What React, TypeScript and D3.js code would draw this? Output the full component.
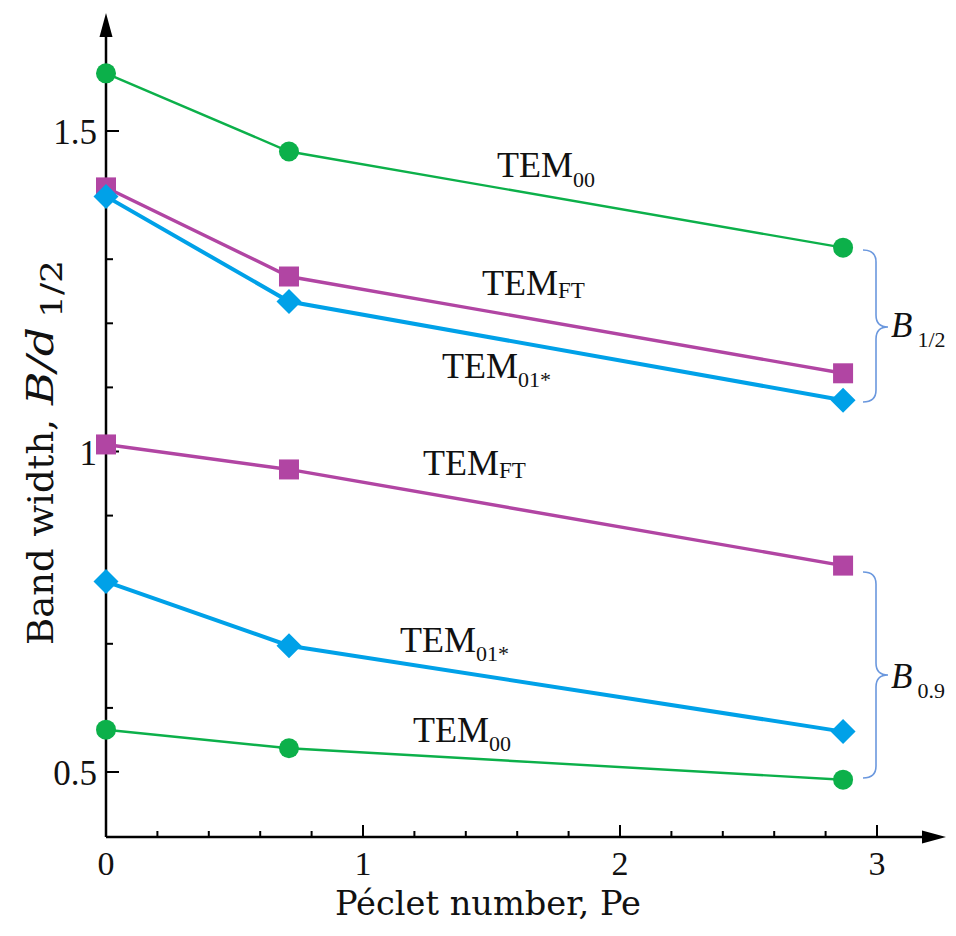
import React from "react";
import * as d3 from "d3";

const peclet = [0, 0.712, 2.868];
const b12_TEM00 = [1.59, 1.468, 1.318];
const b12_TEMFT = [1.412, 1.273, 1.122];
const b12_TEM01 = [1.398, 1.234, 1.08];
const b09_TEMFT = [1.011, 0.972, 0.822];
const b09_TEM01 = [0.797, 0.697, 0.563];
const b09_TEM00 = [0.566, 0.537, 0.488];
const xTicks = [0, 1, 2, 3];
const yTicks = [0.5, 1, 1.5];
const yTickLabels = ["0.5", "1", "1.5"];

const W = 956;
const H = 936;
const GREEN = "#0cb04a";
const MAGENTA = "#b145a3";
const BLUE = "#00a1e8";
const BRACE = "#6b98de";
const FONT = "'Liberation Serif', 'Times New Roman', serif";
const TFONT = "'DejaVu Serif', serif";

const x = d3.scaleLinear().domain([0, 3]).range([106, 877]);
const y = d3.scaleLinear().domain([0.5, 1.5]).range([772, 131]);

const line = d3
  .line<[number, number]>()
  .x((d) => x(d[0]))
  .y((d) => y(d[1]));

type Series = { vals: number[]; color: string; width: number; marker: "circle" | "square" | "diamond" };

const series: Series[] = [
  { vals: b12_TEM00, color: GREEN, width: 2.4, marker: "circle" },
  { vals: b12_TEMFT, color: MAGENTA, width: 3.4, marker: "square" },
  { vals: b12_TEM01, color: BLUE, width: 4, marker: "diamond" },
  { vals: b09_TEMFT, color: MAGENTA, width: 3.4, marker: "square" },
  { vals: b09_TEM01, color: BLUE, width: 4, marker: "diamond" },
  { vals: b09_TEM00, color: GREEN, width: 2.4, marker: "circle" },
];

function Marker({ cx, cy, kind, color }: { cx: number; cy: number; kind: string; color: string }) {
  if (kind === "circle") return <circle cx={cx} cy={cy} r={10} fill={color} />;
  if (kind === "square") return <rect x={cx - 10} y={cy - 10} width={20} height={20} fill={color} />;
  const r = 12.5;
  return <path d={`M${cx},${cy - r}L${cx + r},${cy}L${cx},${cy + r}L${cx - r},${cy}Z`} fill={color} />;
}

function Brace({ y0, y1, ym }: { y0: number; y1: number; ym: number }) {
  const x0 = 863, x1 = 876, x2 = 888, r = 12;
  const d = `M${x0},${y0} Q${x1},${y0} ${x1},${y0 + r} L${x1},${ym - r} Q${x1},${ym} ${x2},${ym} Q${x1},${ym} ${x1},${ym + r} L${x1},${y1 - r} Q${x1},${y1} ${x0},${y1}`;
  return <path d={d} fill="none" stroke={BRACE} strokeWidth={1.6} />;
}

function TemLabel({ px, py, sub, subDy, subSize }: { px: number; py: number; sub: string; subDy: number; subSize: number }) {
  return (
    <text x={px} y={py} fontFamily={FONT} fontSize={36} fill="#111">
      TEM
      <tspan fontSize={subSize} dy={subDy}>{sub}</tspan>
    </text>
  );
}

export default function App() {
  const minorX = d3.range(0.2, 3.0, 0.2).filter((v) => Math.abs(v - Math.round(v)) > 0.01);
  const minorY = d3.range(0.6, 1.65, 0.1).filter((v) => Math.abs(v * 2 - Math.round(v * 2)) > 0.01);
  const axisY = 837;
  const axisX = 106;
  return (
    <svg width={W} height={H} style={{ display: "block", margin: "-8px" }} viewBox={`0 0 ${W} ${H}`}>
      <rect x={0} y={0} width={W} height={H} fill="#fff" />
      {/* axes */}
      <line x1={axisX} y1={axisY} x2={926} y2={axisY} stroke="#000" strokeWidth={2.5} />
      <path d={`M946,${axisY} L922,${axisY - 6.5} L922,${axisY + 6.5} Z`} fill="#000" />
      <line x1={axisX} y1={axisY} x2={axisX} y2={33} stroke="#000" strokeWidth={2.5} />
      <path d={`M${axisX},13 L${axisX - 6.5},37 L${axisX + 6.5},37 Z`} fill="#000" />
      {xTicks.filter((t) => t > 0).map((t) => (
        <line key={"xM" + t} x1={x(t)} x2={x(t)} y1={axisY} y2={axisY - 12} stroke="#000" strokeWidth={2} />
      ))}
      {minorX.map((t) => (
        <line key={"xm" + t} x1={x(t)} x2={x(t)} y1={axisY} y2={axisY - 6} stroke="#000" strokeWidth={2} />
      ))}
      {yTicks.map((t) => (
        <line key={"yM" + t} x1={axisX} x2={axisX + 13} y1={y(t)} y2={y(t)} stroke="#000" strokeWidth={2} />
      ))}
      {minorY.map((t) => (
        <line key={"ym" + t} x1={axisX} x2={axisX + 7} y1={y(t)} y2={y(t)} stroke="#000" strokeWidth={2} />
      ))}
      {xTicks.map((t) => (
        <text key={"xl" + t} x={x(t)} y={875} textAnchor="middle" fontFamily={FONT} fontSize={34} fill="#111">
          {t}
        </text>
      ))}
      {yTicks.map((t, i) => (
        <text key={"yl" + t} x={97} y={y(t) + 13} textAnchor="end" fontFamily={FONT} fontSize={35} fill="#111">
          {yTickLabels[i]}
        </text>
      ))}
      {/* axis titles */}
      <text x={335} y={915} fontFamily={TFONT} fontSize={33} fill="#111" textLength={306} lengthAdjust="spacingAndGlyphs">
        Péclet number, Pe
      </text>
      <g transform="translate(53,645) rotate(-90)">
        <text x={0} y={0} fontFamily={TFONT} fontSize={35} fill="#111" textLength={226} lengthAdjust="spacingAndGlyphs">
          Band width,
        </text>
        <text x={240} y={0} fontFamily={TFONT} fontSize={37} fontStyle="italic" fill="#111" textLength={78} lengthAdjust="spacingAndGlyphs">
          B/d
        </text>
        <text x={327} y={9} fontFamily={TFONT} fontSize={29} fill="#111" textLength={58} lengthAdjust="spacingAndGlyphs">
          1/2
        </text>
      </g>
      {/* series */}
      {series.map((s, i) => {
        const pts: [number, number][] = peclet.map((p, j) => [p, s.vals[j]]);
        return (
          <g key={"s" + i}>
            <path d={line(pts) || ""} fill="none" stroke={s.color} strokeWidth={s.width} />
            {pts.map((p, j) => (
              <Marker key={j} cx={x(p[0])} cy={y(p[1])} kind={s.marker} color={s.color} />
            ))}
          </g>
        );
      })}
      {/* labels */}
      <TemLabel px={497} py={177} sub="00" subDy={10} subSize={22} />
      <TemLabel px={482} py={295} sub="FT" subDy={3} subSize={23} />
      <TemLabel px={442} py={378} sub="01*" subDy={9} subSize={22} />
      <TemLabel px={423} py={475} sub="FT" subDy={3} subSize={23} />
      <TemLabel px={400} py={652} sub="01*" subDy={9} subSize={22} />
      <TemLabel px={413} py={742} sub="00" subDy={9} subSize={22} />
      {/* braces */}
      <Brace y0={250} y1={402} ym={327} />
      <Brace y0={572} y1={778} ym={675} />
      <text x={891} y={337} fontFamily={FONT} fontSize={35} fill="#111">
        <tspan fontStyle="italic">B</tspan>
        <tspan fontSize={22} dx={5} dy={10}>1/2</tspan>
      </text>
      <text x={891} y={688} fontFamily={FONT} fontSize={35} fill="#111">
        <tspan fontStyle="italic">B</tspan>
        <tspan fontSize={22} dx={5} dy={10}>0.9</tspan>
      </text>
    </svg>
  );
}
